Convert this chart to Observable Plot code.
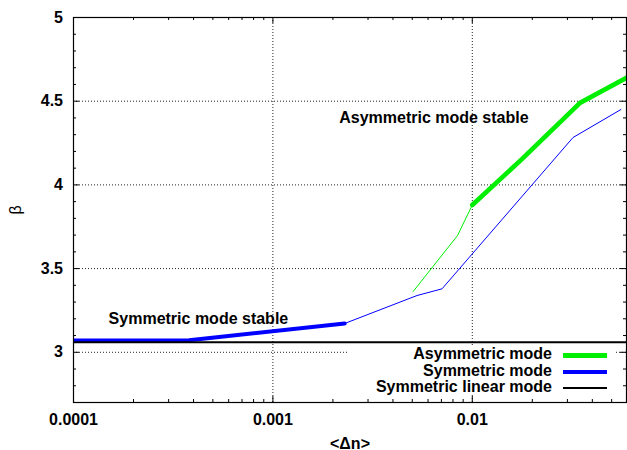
<!DOCTYPE html>
<html>
<head>
<meta charset="utf-8">
<script src="https://cdn.jsdelivr.net/npm/d3@7"></script>
<script src="https://cdn.jsdelivr.net/npm/@observablehq/plot@0.6"></script>
<style>
  body { margin: 0; background: white; }
  #wrap { position: relative; width: 627px; height: 450px; overflow: hidden; font-family: "Liberation Sans", Arial, sans-serif; }
  #legend { position: absolute; left: 347px; top: 346px; width: 268px; height: 49px; background: white; }
  .lrow { position: absolute; left: 0; width: 205px; text-align: right; font-weight: bold; font-size: 16px; line-height: 16.5px; color: black; white-space: nowrap; }
  .lsample { position: absolute; left: 216px; width: 44px; }
</style>
</head>
<body>
<div id="wrap"></div>
<script>
// ---- data ----
const symStableX = [0.0001, 0.00038, 0.00229];
const symStableY = [3.07, 3.072, 3.172];
const symUnstableX = [0.00229, 0.00528, 0.00705, 0.032, 0.0556];
const symUnstableY = [3.172, 3.339, 3.379, 4.283, 4.45];
const asymUnstableX = [0.00505, 0.00843, 0.01];
const asymUnstableY = [3.363, 3.697, 3.88];
const asymStableX = [0.01, 0.01774, 0.0347, 0.05935];
const asymStableY = [3.88, 4.154, 4.49, 4.64];
const linearBeta = 3.06;

const xMajorTicks = [0.0001, 0.001, 0.01];
const xTickLabels = ["0.0001", "0.001", "0.01"];
const xMinorTicks = [2e-4,3e-4,4e-4,5e-4,6e-4,7e-4,8e-4,9e-4,2e-3,3e-3,4e-3,5e-3,6e-3,7e-3,8e-3,9e-3,2e-2,3e-2,4e-2,5e-2];
const yMajorTicks = [3, 3.5, 4, 4.5, 5];
const yTickLabels = ["3", "3.5", "4", "4.5", "5"];
const yMinorTicks = [2.8, 2.9, 3.1, 3.2, 3.3, 3.4, 3.6, 3.7, 3.8, 3.9, 4.1, 4.2, 4.3, 4.4, 4.6, 4.7, 4.8, 4.9];
const xGrid = [0.001, 0.01];
const yGrid = [3, 3.5, 4, 4.5];

const annotations = [
  {x: 0.00015, y: 3.2, text: "Symmetric mode stable"},
  {x: 0.00215, y: 4.4, text: "Asymmetric mode stable"}
];
const legendItems = [
  {label: "Asymmetric mode", color: "#00ee00", width: 4.7},
  {label: "Symmetric mode", color: "#0000ff", width: 4},
  {label: "Symmetric linear mode", color: "#000000", width: 2}
];
const xLabel = "<Δn>";
const yLabel = "β";

// ---- build ----
const zip = (xs, ys) => xs.map((x, i) => ({x, y: ys[i]}));
const W = 627, H = 450, mL = 73, mR = 1, mT = 17, mB = 48;
const PW = W - mL - mR, PH = H - mT - mB;
const font = {fontFamily: "Liberation Sans, Arial, sans-serif", fontSize: 16, fontWeight: "bold", fill: "black"};

const chart = Plot.plot({
  width: W, height: H,
  marginLeft: mL, marginRight: mR, marginTop: mT, marginBottom: mB,
  style: {fontFamily: "Liberation Sans, Arial, sans-serif", background: "white", overflow: "hidden"},
  x: {type: "log", domain: [0.0001, 0.05935], axis: null},
  y: {domain: [2.7, 5], axis: null},
  marks: [
    // grid
    Plot.ruleX(xGrid, {x: d => d, stroke: "#222", strokeWidth: 1, strokeDasharray: "1,2"}),
    Plot.ruleY(yGrid, {y: d => d, stroke: "#222", strokeWidth: 1, strokeDasharray: "1,2"}),
    // data
    Plot.line(zip(asymUnstableX, asymUnstableY), {x: "x", y: "y", stroke: "#00ee00", strokeWidth: 1, clip: true}),
    Plot.line(zip(asymStableX, asymStableY), {x: "x", y: "y", stroke: "#00ee00", strokeWidth: 4.7, clip: true}),
    Plot.line(zip(symUnstableX, symUnstableY), {x: "x", y: "y", stroke: "#0000ff", strokeWidth: 1, clip: true}),
    Plot.line(zip(symStableX, symStableY), {x: "x", y: "y", stroke: "#0000ff", strokeWidth: 4, clip: true}),
    Plot.ruleY([linearBeta], {y: d => d, stroke: "black", strokeWidth: 2}),
    // ticks (inward, all four sides)
    Plot.tickX(xMajorTicks, {x: d => d, insetTop: PH - 6, stroke: "black"}),
    Plot.tickX(xMinorTicks, {x: d => d, insetTop: PH - 3, stroke: "black"}),
    Plot.tickX(xMajorTicks, {x: d => d, insetBottom: PH - 6, stroke: "black"}),
    Plot.tickX(xMinorTicks, {x: d => d, insetBottom: PH - 3, stroke: "black"}),
    Plot.tickY(yMajorTicks, {y: d => d, insetRight: PW - 6, stroke: "black"}),
    Plot.tickY(yMinorTicks, {y: d => d, insetRight: PW - 3, stroke: "black"}),
    Plot.tickY(yMajorTicks, {y: d => d, insetLeft: PW - 6, stroke: "black"}),
    Plot.tickY(yMinorTicks, {y: d => d, insetLeft: PW - 3, stroke: "black"}),
    Plot.frame({stroke: "black", strokeWidth: 1.2}),
    // tick labels
    Plot.text(xMajorTicks, {x: d => d, text: (d, i) => xTickLabels[i], frameAnchor: "bottom", dy: 22, lineAnchor: "bottom", textAnchor: "middle", ...font}),
    Plot.text(yMajorTicks, {y: d => d, text: (d, i) => yTickLabels[i], frameAnchor: "left", dx: -10.5, lineAnchor: "middle", textAnchor: "end", ...font}),
    // annotations
    Plot.text(annotations, {x: "x", y: "y", text: "text", textAnchor: "start", lineAnchor: "middle", ...font}),
    // axis labels
    Plot.text([xLabel], {text: d => d, frameAnchor: "bottom", dy: 46, lineAnchor: "bottom", textAnchor: "middle", ...font}),
    Plot.text([yLabel], {text: d => d, frameAnchor: "left", dx: -58, rotate: -90, lineAnchor: "middle", textAnchor: "middle", fontFamily: "Liberation Sans, Arial, sans-serif", fontSize: 16, fill: "black"})
  ]
});

const wrap = document.getElementById("wrap");
wrap.appendChild(chart);

// legend (HTML overlay, white box as in the original)
const legend = document.createElement("div");
legend.id = "legend";
const centers = [9.3, 26, 42.3];
legendItems.forEach((item, i) => {
  const row = document.createElement("div");
  row.className = "lrow";
  row.style.top = (i * 16.5) + "px";
  row.textContent = item.label;
  legend.appendChild(row);
  const s = document.createElement("div");
  s.className = "lsample";
  s.style.top = (centers[i] - item.width / 2) + "px";
  s.style.height = item.width + "px";
  s.style.background = item.color;
  legend.appendChild(s);
});
wrap.appendChild(legend);
</script>
</body>
</html>
